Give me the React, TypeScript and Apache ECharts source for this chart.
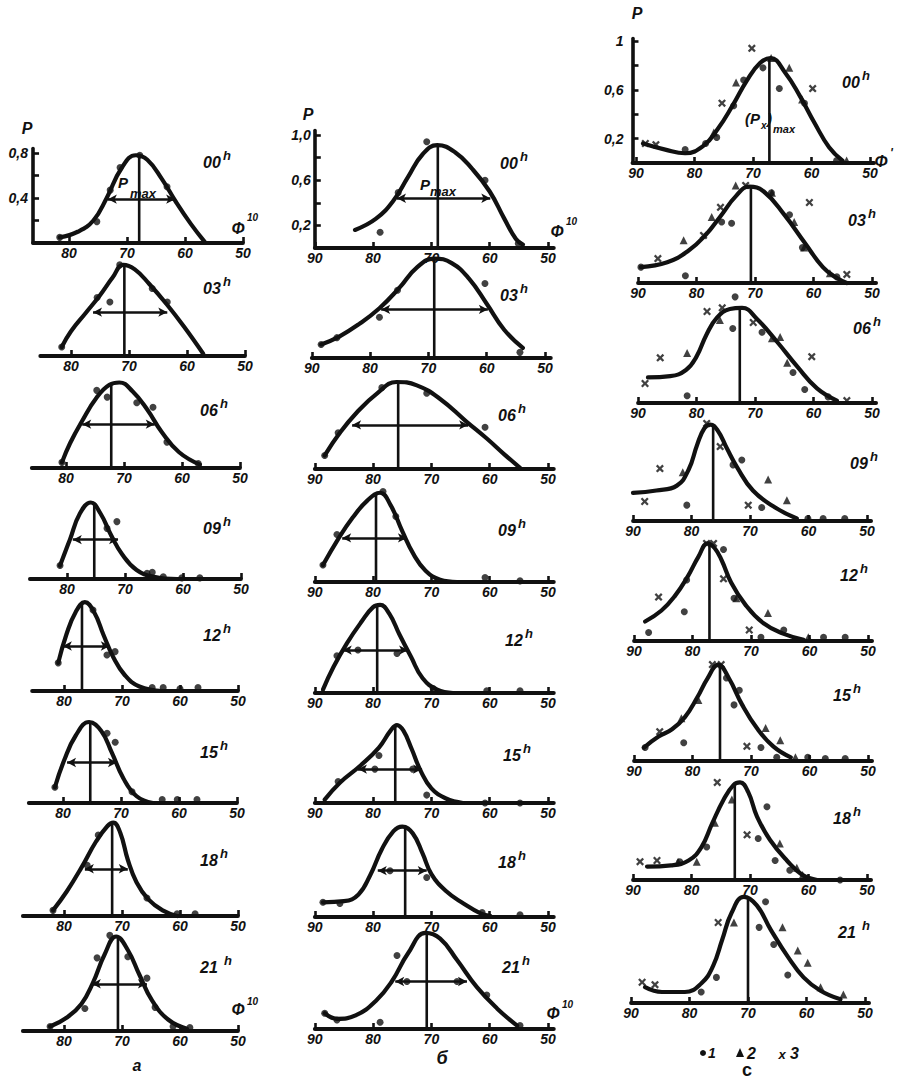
import { useEffect, useRef } from "react";
import * as echarts from "echarts";

type Pt = [number, number];
type Span = [number, number, number];

const hours = ["00", "03", "06", "09", "12", "15", "18", "21"];

// φ tick values on the horizontal axes
const ticksA = [50, 60, 70, 80];
const ticksBC = [50, 60, 70, 80, 90];

// P tick values on the vertical axes of the top panels
const yTicksA = [0.2, 0.4, 0.6, 0.8];
const yLabelsA = [0.4, 0.8];
const yTicksBC = [0.2, 0.4, 0.6, 0.8, 1.0];
const yLabelsBC = [0.2, 0.6, 1.0];

// ---------- column a ----------
const curvesA: Pt[][] = [
  [[81.6, 0.05], [78.5, 0.1], [75.8, 0.2], [73.5, 0.4], [71.0, 0.66], [68.5, 0.78], [66.5, 0.74], [64.0, 0.57], [61.5, 0.36], [59.0, 0.17], [56.6, 0.01]],
  [[81.6, 0.08], [80.0, 0.22], [77.5, 0.38], [75.0, 0.54], [72.8, 0.7], [71.0, 0.81], [69.0, 0.77], [66.5, 0.64], [63.5, 0.46], [60.5, 0.26], [57.2, 0.02]],
  [[80.7, 0.05], [79.3, 0.22], [77.2, 0.42], [74.8, 0.62], [72.5, 0.74], [70.8, 0.76], [68.5, 0.68], [66.0, 0.52], [63.5, 0.32], [60.5, 0.14], [56.9, 0.03]],
  [[81.2, 0.12], [79.5, 0.35], [77.8, 0.58], [75.9, 0.68], [74.2, 0.58], [72.5, 0.4], [70.5, 0.22], [68.0, 0.08], [65.0, 0.02], [61.0, 0.0]],
  [[81.0, 0.25], [79.6, 0.5], [78.0, 0.7], [76.4, 0.79], [74.8, 0.7], [73.2, 0.5], [71.5, 0.3], [69.5, 0.14], [67.0, 0.04], [63.0, 0.0]],
  [[81.4, 0.14], [79.8, 0.38], [77.8, 0.6], [75.5, 0.72], [73.4, 0.64], [71.6, 0.45], [69.6, 0.22], [67.3, 0.06], [64.5, 0.0]],
  [[81.9, 0.05], [79.5, 0.22], [77.0, 0.43], [74.5, 0.66], [72.5, 0.8], [71.5, 0.83], [70.3, 0.74], [69.0, 0.5], [67.5, 0.3], [65.5, 0.15], [63.0, 0.05], [60.5, 0.0]],
  [[82.4, 0.04], [79.5, 0.12], [77.0, 0.24], [75.0, 0.43], [73.0, 0.68], [71.0, 0.84], [69.0, 0.72], [67.0, 0.5], [64.8, 0.27], [62.0, 0.1], [58.8, 0.02]],
];
const dotsA: Pt[][] = [
  [[81.6, 0.05], [75.2, 0.19], [72.9, 0.47], [71.2, 0.67], [67.8, 0.78], [63.1, 0.5]],
  [[81.6, 0.08], [75.5, 0.52], [73.3, 0.48], [71.6, 0.81], [66.0, 0.6], [63.4, 0.48]],
  [[80.7, 0.05], [74.7, 0.69], [72.9, 0.63], [67.8, 0.58], [65.0, 0.54], [62.6, 0.23], [57.2, 0.04]],
  [[81.2, 0.12], [73.1, 0.45], [71.4, 0.51], [66.2, 0.05], [65.3, 0.06], [63.4, 0.02], [60.2, 0.01], [57.1, 0.01]],
  [[81.0, 0.25], [75.0, 0.72], [72.6, 0.32], [71.2, 0.35], [64.8, 0.03], [62.9, 0.03], [60.0, 0.02], [56.9, 0.03]],
  [[81.4, 0.14], [72.4, 0.62], [71.0, 0.54], [68.1, 0.1], [62.9, 0.03], [60.3, 0.03], [56.9, 0.03]],
  [[81.9, 0.05], [74.1, 0.72], [76.0, 0.45], [65.7, 0.16], [60.5, 0.02], [57.4, 0.02]],
  [[82.4, 0.04], [76.4, 0.2], [74.3, 0.65], [72.1, 0.85], [69.0, 0.66], [65.7, 0.47], [64.3, 0.21], [61.2, 0.04], [58.3, 0.03]],
];
const peaksA: Pt[] = [[67.9, 0.78], [70.8, 0.81], [72.2, 0.74], [75.3, 0.68], [76.9, 0.78], [75.3, 0.72], [71.7, 0.83], [70.7, 0.84]];
const spansA: Span[] = [[73.3, 61.7, 0.39], [76.2, 63.4, 0.39], [77.2, 64.7, 0.39], [79.0, 71.2, 0.35], [80.2, 72.1, 0.4], [79.3, 70.7, 0.36], [76.4, 69.0, 0.42], [75.2, 65.7, 0.42]];

// ---------- column б ----------
const curvesB: Pt[][] = [
  [[83.1, 0.16], [79.5, 0.26], [76.5, 0.42], [74.0, 0.63], [71.5, 0.83], [69.0, 0.91], [66.0, 0.85], [63.0, 0.7], [60.0, 0.5], [57.5, 0.26], [55.5, 0.08], [54.3, 0.03]],
  [[88.4, 0.12], [85.3, 0.19], [81.9, 0.3], [78.4, 0.44], [75.0, 0.62], [72.0, 0.8], [69.0, 0.88], [66.0, 0.84], [63.0, 0.7], [60.0, 0.48], [57.0, 0.25], [53.8, 0.09]],
  [[88.3, 0.12], [85.7, 0.32], [82.8, 0.5], [79.3, 0.67], [76.0, 0.77], [72.5, 0.74], [68.5, 0.62], [64.0, 0.42], [60.5, 0.27], [57.5, 0.13], [54.8, 0.01]],
  [[88.6, 0.15], [86.0, 0.38], [83.5, 0.57], [81.0, 0.72], [78.8, 0.79], [77.0, 0.68], [75.0, 0.45], [73.0, 0.24], [71.0, 0.1], [68.5, 0.02], [65.6, 0.0]],
  [[88.6, 0.03], [86.8, 0.23], [84.5, 0.44], [82.0, 0.63], [80.0, 0.76], [78.8, 0.78], [77.2, 0.7], [75.5, 0.52], [73.5, 0.32], [71.5, 0.13], [69.0, 0.03], [66.3, 0.0]],
  [[88.3, 0.03], [85.7, 0.18], [82.2, 0.33], [79.0, 0.49], [77.0, 0.64], [75.9, 0.69], [74.8, 0.64], [73.4, 0.48], [71.8, 0.28], [70.0, 0.13], [67.5, 0.04], [64.6, 0.0]],
  [[88.6, 0.13], [85.0, 0.14], [82.5, 0.2], [80.5, 0.37], [78.5, 0.6], [76.5, 0.76], [75.0, 0.8], [73.2, 0.74], [71.5, 0.56], [70.0, 0.38], [67.5, 0.23], [64.5, 0.12], [61.5, 0.03], [59.9, 0.01]],
  [[88.3, 0.14], [86.2, 0.09], [83.0, 0.12], [79.5, 0.25], [76.8, 0.42], [74.0, 0.67], [71.0, 0.85], [68.5, 0.8], [65.6, 0.61], [62.2, 0.37], [58.7, 0.18], [55.3, 0.03]],
];
const dotsB: Pt[][] = [
  [[78.8, 0.14], [75.7, 0.49], [70.8, 0.94], [60.8, 0.6], [55.1, 0.04]],
  [[88.4, 0.12], [85.7, 0.18], [78.4, 0.36], [75.3, 0.6], [60.3, 0.66], [54.3, 0.05]],
  [[88.3, 0.12], [86.0, 0.32], [78.5, 0.72], [70.8, 0.67], [60.8, 0.37]],
  [[88.6, 0.15], [86.2, 0.42], [78.3, 0.8], [76.1, 0.58], [60.8, 0.04], [54.8, 0.01]],
  [[86.2, 0.33], [82.6, 0.38], [75.9, 0.35], [69.7, 0.04], [60.5, 0.02], [54.8, 0.02]],
  [[86.0, 0.19], [79.7, 0.3], [79.0, 0.42], [73.2, 0.3], [70.8, 0.07], [60.8, 0.0], [54.8, 0.0]],
  [[88.6, 0.13], [85.7, 0.12], [77.1, 0.41], [70.8, 0.35], [61.3, 0.04], [54.8, 0.02]],
  [[88.3, 0.14], [86.2, 0.08], [78.8, 0.06], [75.9, 0.65], [74.2, 0.42], [65.6, 0.42], [60.5, 0.3], [54.8, 0.03]],
];
const peaksB: Pt[] = [[68.9, 0.91], [69.0, 0.88], [75.7, 0.77], [79.5, 0.78], [79.3, 0.77], [76.2, 0.68], [74.5, 0.79], [70.8, 0.85]];
const spansB: Span[] = [[75.9, 59.9, 0.44], [78.1, 59.8, 0.43], [83.6, 63.7, 0.39], [85.3, 74.2, 0.39], [85.2, 74.0, 0.38], [82.6, 71.6, 0.3], [79.2, 70.8, 0.41], [76.2, 63.9, 0.42]];

// ---------- column c (three station groups: 1 dots, 2 triangles, 3 crosses) ----------
const curvesC: Pt[][] = [
  [[88.8, 0.16], [85.0, 0.11], [81.6, 0.08], [78.5, 0.14], [76.0, 0.28], [73.5, 0.47], [71.0, 0.68], [68.8, 0.82], [67.0, 0.86], [64.5, 0.74], [62.0, 0.55], [59.5, 0.33], [57.0, 0.13], [54.7, 0.02]],
  [[89.5, 0.13], [85.0, 0.17], [81.5, 0.26], [78.5, 0.39], [75.7, 0.56], [73.3, 0.71], [71.0, 0.79], [68.5, 0.75], [65.0, 0.56], [61.5, 0.33], [58.4, 0.13], [56.0, 0.04], [54.3, 0.0]],
  [[88.3, 0.21], [84.5, 0.22], [81.8, 0.27], [80.0, 0.38], [78.3, 0.56], [76.5, 0.7], [74.3, 0.77], [72.2, 0.78], [69.7, 0.69], [66.2, 0.5], [62.8, 0.3], [59.4, 0.12], [56.0, 0.02]],
  [[90.0, 0.23], [86.0, 0.25], [82.5, 0.29], [80.5, 0.42], [79.0, 0.63], [77.8, 0.76], [76.8, 0.79], [75.5, 0.74], [74.0, 0.6], [72.2, 0.44], [69.5, 0.25], [65.7, 0.11], [62.0, 0.02]],
  [[88.1, 0.16], [85.3, 0.25], [83.0, 0.37], [80.8, 0.53], [79.0, 0.69], [77.4, 0.8], [76.2, 0.76], [75.0, 0.66], [73.4, 0.48], [71.0, 0.3], [68.0, 0.15], [64.5, 0.06], [61.0, 0.01]],
  [[88.3, 0.11], [85.8, 0.2], [83.5, 0.26], [81.3, 0.36], [79.2, 0.52], [77.4, 0.68], [75.6, 0.79], [73.8, 0.68], [71.5, 0.46], [69.0, 0.27], [66.2, 0.12], [63.2, 0.03]],
  [[87.6, 0.11], [83.5, 0.12], [80.5, 0.16], [78.3, 0.27], [76.5, 0.46], [74.5, 0.66], [72.8, 0.78], [71.7, 0.8], [70.3, 0.72], [68.8, 0.52], [66.6, 0.33], [63.7, 0.16], [61.0, 0.04], [58.5, 0.0]],
  [[87.6, 0.13], [84.7, 0.09], [80.8, 0.09], [78.0, 0.16], [76.0, 0.3], [74.4, 0.52], [72.8, 0.74], [70.7, 0.87], [68.5, 0.8], [66.1, 0.6], [63.2, 0.38], [60.5, 0.21], [57.6, 0.1], [54.2, 0.03]],
];
const dotsC: Pt[][] = [
  [[81.6, 0.11], [78.1, 0.16], [76.2, 0.21], [73.3, 0.47], [71.6, 0.68], [68.3, 0.78], [65.5, 0.61], [61.2, 0.49], [55.7, 0.02]],
  [[89.5, 0.13], [81.9, 0.06], [74.0, 0.49], [75.7, 0.5], [67.2, 0.74], [64.1, 0.56], [61.9, 0.29], [56.0, 0.05]],
  [[81.6, 0.06], [73.4, 0.87], [73.8, 0.61], [68.8, 0.58], [63.5, 0.25], [61.5, 0.11], [57.5, 0.05]],
  [[72.9, 0.46], [71.4, 0.5], [80.8, 0.13], [68.0, 0.11], [60.1, 0.02], [57.5, 0.02], [53.8, 0.02]],
  [[87.5, 0.07], [81.4, 0.24], [81.0, 0.5], [74.7, 0.75], [72.9, 0.35], [68.3, 0.03], [64.4, 0.09], [57.6, 0.03], [53.9, 0.03]],
  [[88.1, 0.11], [81.5, 0.15], [72.9, 0.46], [68.3, 0.11], [65.6, 0.03], [60.3, 0.03], [57.3, 0.02], [53.9, 0.02], [74.2, 0.68], [72.0, 0.58]],
  [[82.0, 0.15], [77.4, 0.27], [67.1, 0.6], [68.6, 0.34], [65.7, 0.16], [63.2, 0.08], [54.6, 0.0]],
  [[78.0, 0.09], [75.4, 0.21], [68.1, 0.62], [65.6, 0.48], [63.2, 0.23], [67.0, 0.83]],
];
const trianglesC: Pt[][] = [
  [[72.9, 0.66], [76.7, 0.25], [66.9, 0.86], [63.8, 0.78], [61.6, 0.52], [54.0, 0.02]],
  [[82.2, 0.35], [77.4, 0.54], [73.3, 0.8], [67.1, 0.74], [63.3, 0.5], [61.6, 0.29], [57.2, 0.08]],
  [[81.6, 0.41], [76.0, 0.68], [67.1, 0.53], [64.5, 0.33], [65.7, 0.54]],
  [[81.5, 0.4], [66.9, 0.34], [63.7, 0.17]],
  [[72.5, 0.35], [67.1, 0.23], [60.2, 0.03]],
  [[81.9, 0.35], [79.0, 0.5], [67.5, 0.27], [65.0, 0.17], [62.4, 0.03]],
  [[82.3, 0.15], [79.1, 0.15], [76.0, 0.47], [64.9, 0.3], [62.0, 0.1], [61.0, 0.04], [73.1, 0.66]],
  [[64.1, 0.62], [61.5, 0.43], [59.8, 0.33], [57.6, 0.13], [53.7, 0.07], [72.4, 0.66]],
];
const crossesC: Pt[][] = [
  [[88.4, 0.16], [86.6, 0.15], [75.3, 0.49], [70.2, 0.94], [59.8, 0.61]],
  [[86.6, 0.2], [78.8, 0.39], [75.9, 0.62], [60.7, 0.66], [54.3, 0.07], [71.6, 0.8]],
  [[88.8, 0.16], [86.2, 0.37], [78.2, 0.75], [75.6, 0.78], [70.3, 0.66], [60.3, 0.38], [54.3, 0.02]],
  [[85.4, 0.43], [77.4, 0.8], [75.1, 0.61], [88.0, 0.16], [70.3, 0.13]],
  [[85.8, 0.36], [76.4, 0.8], [74.7, 0.51], [70.3, 0.09], [77.6, 0.8]],
  [[85.6, 0.24], [76.6, 0.79], [75.1, 0.79], [70.7, 0.12]],
  [[88.8, 0.15], [85.9, 0.16], [75.6, 0.8], [70.5, 0.37]],
  [[88.1, 0.17], [75.1, 0.66], [85.9, 0.15]],
];
const peaksC: Pt[] = [[67.2, 0.86], [70.7, 0.79], [72.6, 0.78], [76.3, 0.79], [77.1, 0.8], [75.3, 0.79], [72.6, 0.78], [70.0, 0.86]];

// ---------- page layout (pixels) ----------
const layoutA = {
  baselines: [243, 356, 468, 579, 691, 803, 916, 1031],
  x50: [243, 245, 240, 241, 238, 237, 238, 238],
  xMax: [86.2, 85.3, 85.9, 86.4, 85.5, 85.9, 87.1, 87.1],
  xMin: 50,
  pxX: 5.8,
  pxY: 112.5,
  topMax: 0.84,
  hourPos: [[203, 162], [203, 288], [200, 410], [203, 528], [203, 635], [200, 752], [200, 860], [200, 967]],
};
const layoutB = {
  baselines: [248, 358, 469, 582, 693, 803, 917, 1029],
  x50: [548, 545, 548, 548, 548, 548, 548, 548],
  xMax: [90, 90, 90, 90, 90, 90, 90, 90],
  xMin: 49,
  pxX: 5.83,
  pxY: 113,
  topMax: 1.04,
  hourPos: [[500, 163], [500, 295], [498, 415], [498, 530], [505, 640], [503, 755], [498, 862], [502, 967]],
};
const layoutC = {
  baselines: [163, 283, 403, 521, 641, 761, 880, 1003],
  x50: [870, 872, 872, 867, 868, 868, 867, 865],
  xMax: [90.6, 90, 90, 90, 90, 90, 90, 90],
  xMin: 49.3,
  pxX: 5.85,
  pxY: 122,
  topMax: 1.02,
  hourPos: [[842, 82], [848, 220], [853, 328], [850, 463], [840, 575], [833, 695], [833, 818], [838, 932]],
};

const FONT = "'Liberation Sans', 'DejaVu Sans', sans-serif";
const INK = "#111";
const CROSS = "path://M0,2L2,0L5,3L8,0L10,2L7,5L10,8L8,10L5,7L2,10L0,8L3,5Z";

function txt(x: number, y: number, text: string, size: number, align = "left", weight = "bold", style = "italic") {
  return {
    type: "text",
    x,
    y,
    silent: true,
    style: {
      text,
      fill: INK,
      font: `${style} ${weight} ${size}px ${FONT}`,
      align,
      verticalAlign: "middle",
      textAlign: align,
      textVerticalAlign: "middle",
    },
  };
}

function hourLabel(pos: number[], hh: string, gap: boolean) {
  return [txt(pos[0], pos[1], hh, 16), txt(pos[0] + (gap ? 24 : 20), pos[1] - 7, "h", 13)];
}

type Layout = typeof layoutA;

function buildColumn(
  lay: Layout,
  ticks: number[],
  yTicks: number[],
  yLabels: number[],
  yFmt: (v: number) => string,
  curves: Pt[][],
  peaks: Pt[],
  spans: Span[] | null,
  dots: Pt[][],
  tris: Pt[][] | null,
  crosses: Pt[][] | null,
  grids: any[],
  xAxes: any[],
  yAxes: any[],
  series: any[],
  yLabelMargin: number
) {
  for (let i = 0; i < 8; i++) {
    const gi = grids.length;
    const yMax = i === 0 ? lay.topMax : 1.0;
    const left = lay.x50[i] - (lay.xMax[i] - 50) * lay.pxX;
    const right = lay.x50[i] + (50 - lay.xMin) * lay.pxX;
    grids.push({
      left,
      top: lay.baselines[i] - yMax * lay.pxY,
      width: right - left,
      height: yMax * lay.pxY,
      containLabel: false,
      outerBoundsMode: "none",
    });
    xAxes.push({
      gridIndex: gi,
      type: "value",
      inverse: true,
      min: lay.xMin,
      max: lay.xMax[i],
      axisLine: { onZero: false, lineStyle: { color: INK, width: 3.8, cap: "round" } },
      axisTick: { inside: true, length: 6, customValues: ticks, lineStyle: { color: INK, width: 2.6 } },
      axisLabel: {
        customValues: ticks,
        formatter: (v: number) => String(Math.round(v)),
        color: INK,
        fontFamily: FONT,
        fontSize: 14,
        fontWeight: "bold",
        fontStyle: "italic",
        margin: 3,
      },
      splitLine: { show: false },
    });
    yAxes.push({
      gridIndex: gi,
      type: "value",
      min: 0,
      max: yMax,
      show: i === 0,
      axisLine: { show: true, onZero: false, lineStyle: { color: INK, width: 3.6 } },
      axisTick: { show: true, inside: true, length: 6, customValues: yTicks, lineStyle: { color: INK, width: 2.6 } },
      axisLabel: {
        customValues: yLabels,
        formatter: yFmt,
        color: INK,
        fontFamily: FONT,
        fontSize: 14,
        fontWeight: "bold",
        fontStyle: "italic",
        margin: yLabelMargin,
      },
      splitLine: { show: false },
    });
    series.push({
      type: "line",
      xAxisIndex: gi,
      yAxisIndex: gi,
      data: curves[i],
      smooth: 0.45,
      symbol: "none",
      clip: false,
      lineStyle: { color: INK, width: 4.2, cap: "round", join: "round" },
      z: 4,
    });
    const peakSeries: any = {
      type: "line",
      xAxisIndex: gi,
      yAxisIndex: gi,
      data: [[peaks[i][0], 0], [peaks[i][0], peaks[i][1]]],
      symbol: "none",
      lineStyle: { color: INK, width: 2.6 },
      z: 3,
    };
    if (spans) {
      const s = spans[i];
      peakSeries.markLine = {
        silent: true,
        symbol: ["arrow", "arrow"],
        symbolSize: [7, 9],
        label: { show: false },
        lineStyle: { color: INK, width: 2.6, type: "solid" },
        data: [[{ coord: [s[0], s[2]] }, { coord: [s[1], s[2]] }]],
      };
    }
    series.push(peakSeries);
    series.push({
      type: "scatter",
      xAxisIndex: gi,
      yAxisIndex: gi,
      data: dots[i],
      symbol: "circle",
      symbolSize: 7,
      clip: false,
      itemStyle: { color: INK },
      z: 5,
    });
    if (tris) {
      series.push({
        type: "scatter",
        xAxisIndex: gi,
        yAxisIndex: gi,
        data: tris[i],
        symbol: "triangle",
        symbolSize: 8,
        clip: false,
        itemStyle: { color: INK },
        z: 5,
      });
    }
    if (crosses) {
      series.push({
        type: "scatter",
        xAxisIndex: gi,
        yAxisIndex: gi,
        data: crosses[i],
        symbol: CROSS,
        symbolSize: 8,
        clip: false,
        itemStyle: { color: INK },
        z: 5,
      });
    }
  }
}

const comma = (v: number) => v.toFixed(1).replace(".", ",");

export default function App() {
  const ref = useRef<HTMLDivElement>(null);

  useEffect(() => {
    if (!ref.current) return;
    const chart = echarts.init(ref.current, undefined, { renderer: "svg" });

    const grids: any[] = [];
    const xAxes: any[] = [];
    const yAxes: any[] = [];
    const series: any[] = [];

    buildColumn(layoutA, ticksA, yTicksA, yLabelsA, comma, curvesA, peaksA, spansA, dotsA, null, null, grids, xAxes, yAxes, series, 5);
    buildColumn(layoutB, ticksBC, yTicksBC, yLabelsBC, comma, curvesB, peaksB, spansB, dotsB, null, null, grids, xAxes, yAxes, series, 4);
    buildColumn(
      layoutC, ticksBC, yTicksBC, yLabelsBC,
      (v: number) => (v >= 0.99 ? "1" : comma(v)),
      curvesC, peaksC, null, dotsC, trianglesC, crossesC, grids, xAxes, yAxes, series, 9
    );

    const graphics: any[] = [];
    hours.forEach((h, i) => {
      graphics.push(...hourLabel(layoutA.hourPos[i], h, h === "21"));
      graphics.push(...hourLabel(layoutB.hourPos[i], h, false));
      graphics.push(...hourLabel(layoutC.hourPos[i], h, h === "21"));
    });

    // axis names
    graphics.push(txt(27, 128, "P", 16, "center"));
    graphics.push(txt(308, 114, "P", 16, "center"));
    graphics.push(txt(637, 13, "P", 16, "center"));
    graphics.push(txt(238, 228, "Φ", 16, "center"), txt(247, 217, "10", 10));
    graphics.push(txt(557, 231, "Φ", 16, "center"), txt(566, 221, "10", 10));
    graphics.push(txt(881, 161, "Φ", 16, "center"), txt(890, 153, "'", 12));
    graphics.push(txt(238, 1009, "Φ", 16, "center"), txt(247, 1001, "10", 10));
    graphics.push(txt(553, 1013, "Φ", 16, "center"), txt(562, 1004, "10", 10));

    // maximum annotations
    graphics.push(txt(123, 182, "P", 15, "center"), txt(130, 193, "max", 13));
    graphics.push(txt(425, 184, "P", 15, "center"), txt(430, 191, "max", 13));
    graphics.push(txt(745, 118, "(P", 15), txt(761, 125, "x", 10), txt(767, 118, ")", 15), txt(773, 129, "max", 11));

    // captions
    graphics.push(txt(137, 1065, "a", 16, "center"));
    graphics.push(txt(442, 1058, "б", 18, "center"));
    graphics.push(txt(747, 1070, "c", 18, "center", "bold", "normal"));

    // station legend
    graphics.push({ type: "circle", silent: true, shape: { cx: 703, cy: 1053, r: 3 }, style: { fill: INK } });
    graphics.push(txt(708, 1053, "1", 14));
    graphics.push({ type: "polygon", silent: true, shape: { points: [[740, 1048], [736, 1057], [744, 1057]] }, style: { fill: INK } });
    graphics.push(txt(747, 1053, "2", 16));
    graphics.push(txt(782, 1054, "x", 13, "center"));
    graphics.push(txt(790, 1053, "3", 16));

    chart.setOption({
      animation: false,
      backgroundColor: "#fff",
      grid: grids,
      xAxis: xAxes,
      yAxis: yAxes,
      series,
      graphic: graphics,
    });

    return () => chart.dispose();
  }, []);

  return (
    <div
      ref={ref}
      style={{ position: "absolute", left: 0, top: 0, width: 897, height: 1081, background: "#fff" }}
    />
  );
}
